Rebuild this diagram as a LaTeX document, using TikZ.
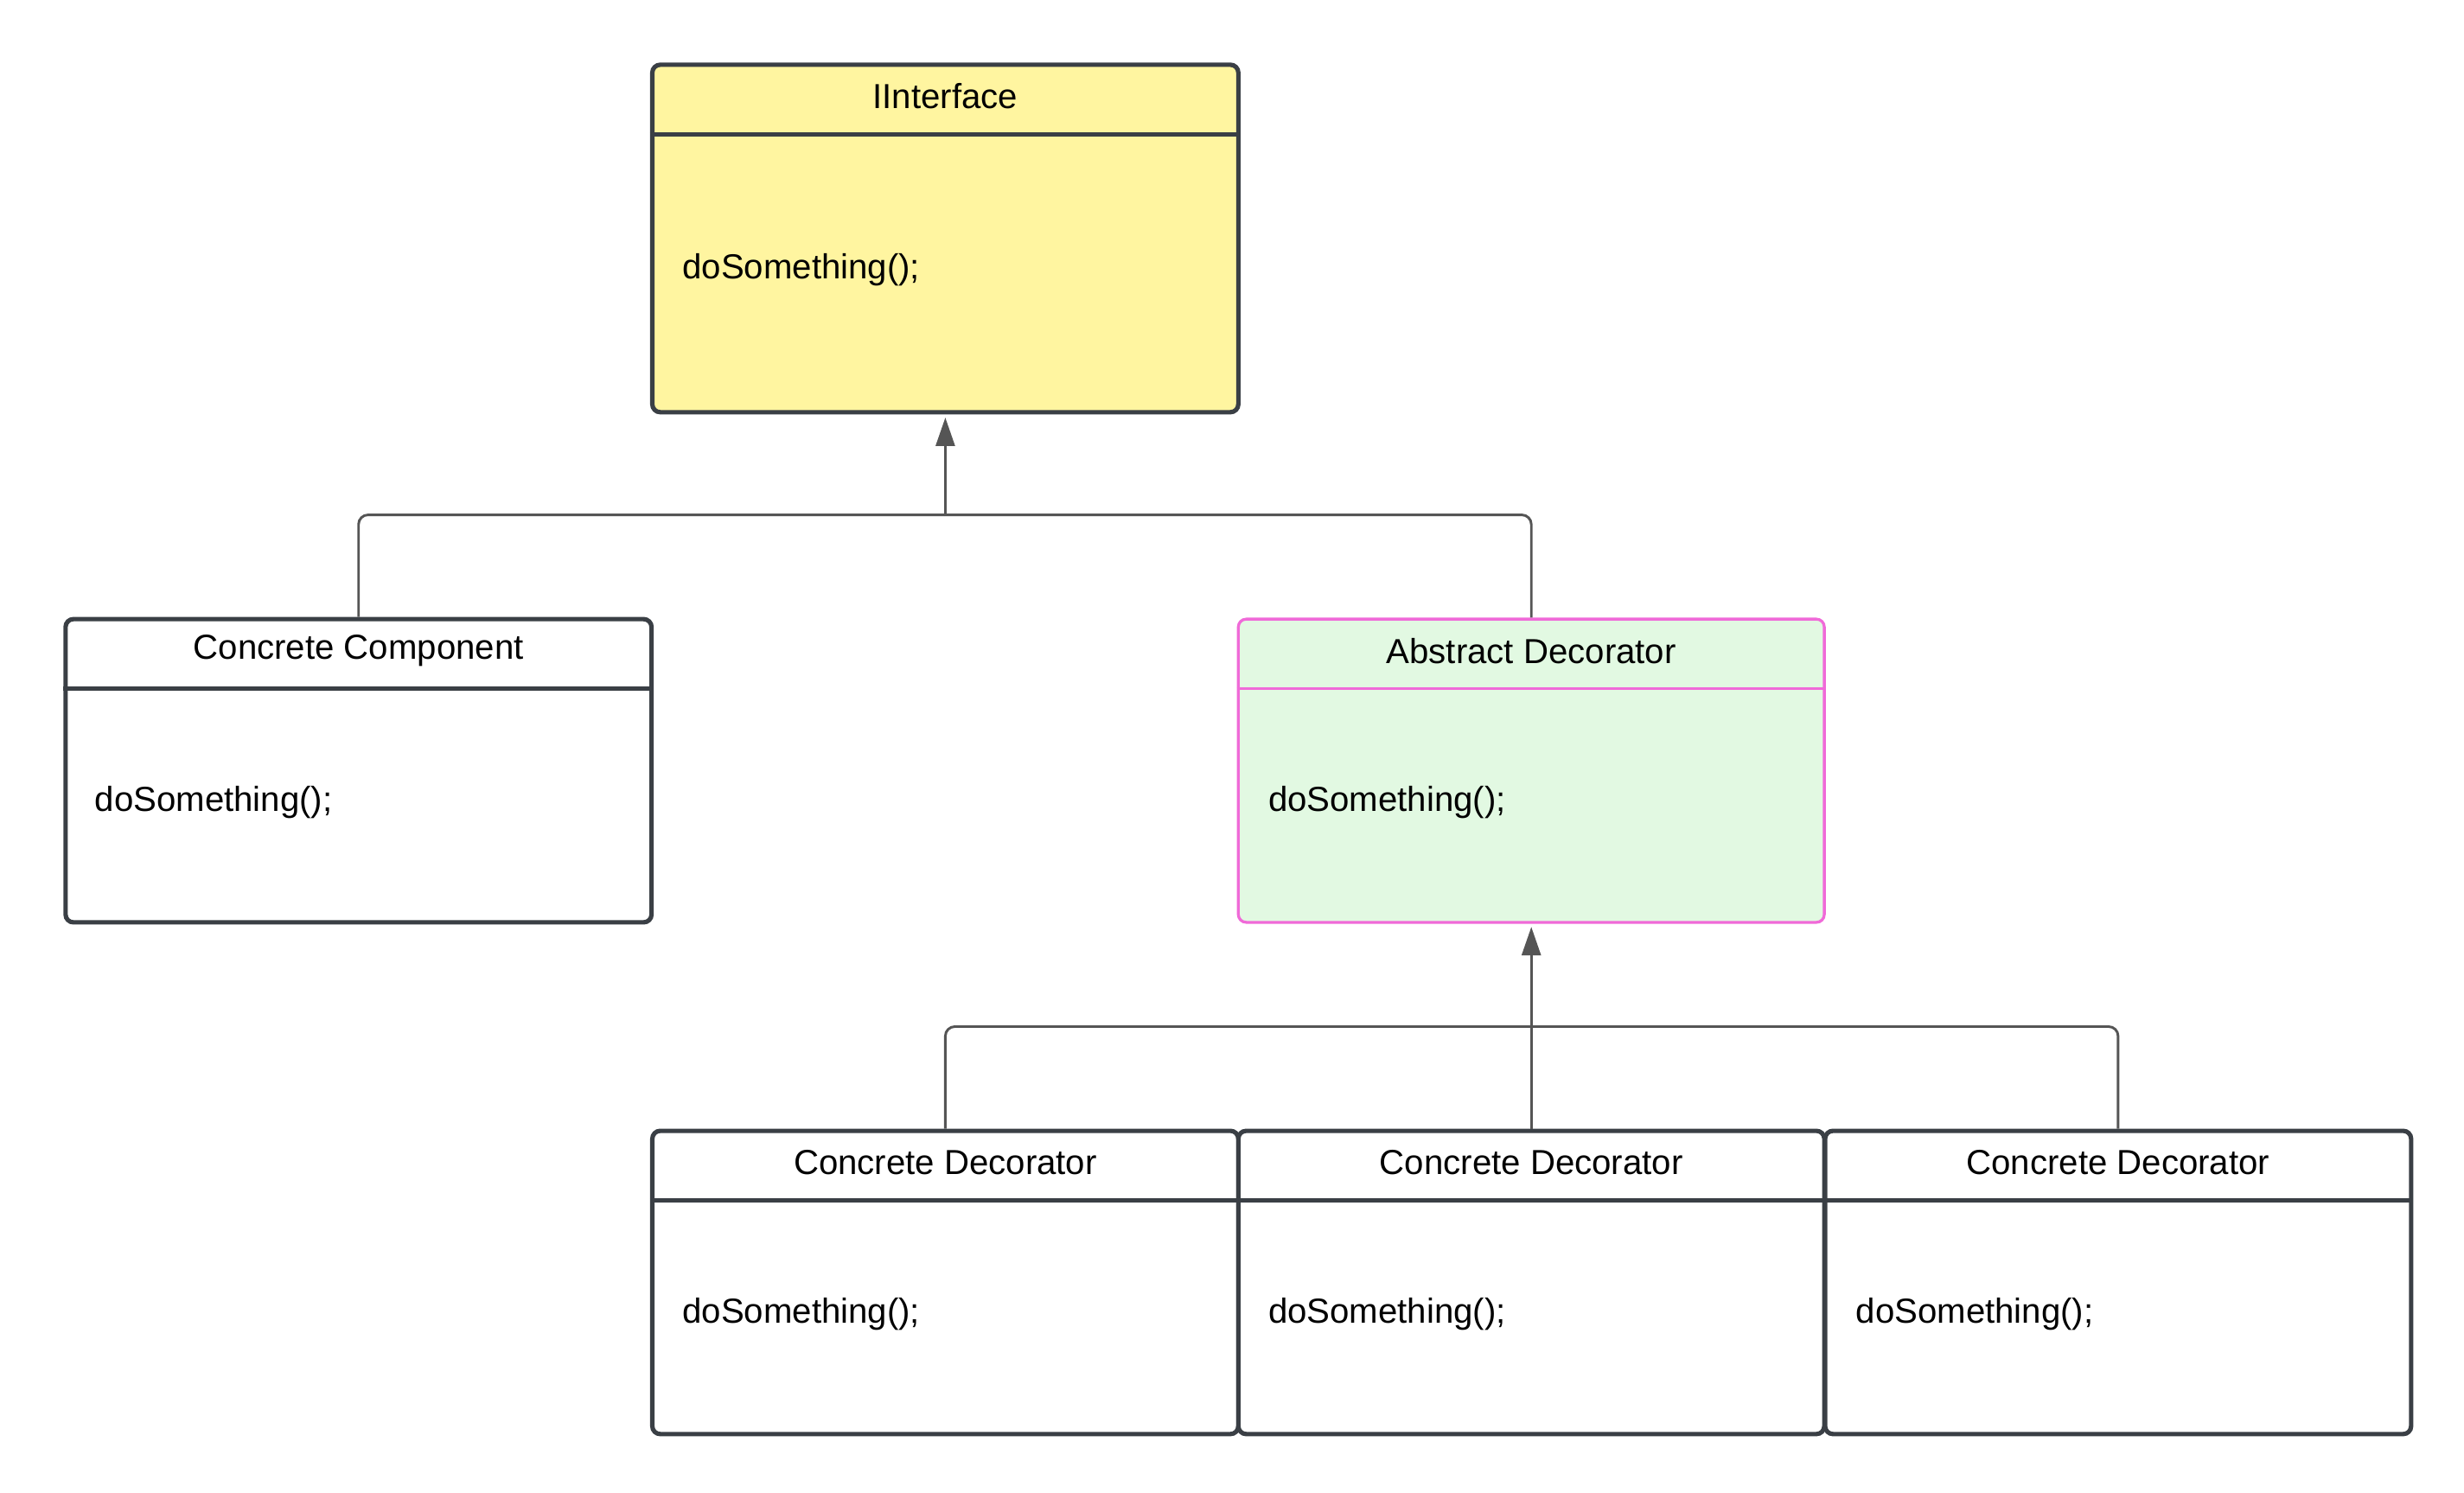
\documentclass[tikz,border=0pt]{standalone}
\usepackage{fontspec}
\setmainfont{Liberation Sans}
\usetikzlibrary{arrows.meta}
\definecolor{boxline}{HTML}{3A3F45}
\definecolor{yel}{HTML}{FFF5A0}
\definecolor{grn}{HTML}{E2F9E2}
\definecolor{pnk}{HTML}{F06AD8}
\definecolor{conn}{HTML}{555555}
\begin{document}
\begin{tikzpicture}[x=0.5pt,y=-0.5pt,
  umlbox/.style={draw=boxline,line width=1.4pt,rounded corners=2.5pt,minimum width=185.5pt,minimum height=#1,inner sep=0pt},
  hdr/.style={font=\fontsize{11}{13}\selectfont},
  body/.style={font=\fontsize{11}{13}\selectfont,anchor=west},
  link/.style={draw=conn,line width=0.8pt,rounded corners=3pt},
  tip/.style={-{Triangle[length=9pt,width=6pt]}}]
\useasboundingbox (0,0) rectangle (1560,945);
% boxes
\node[umlbox=110pt,fill=yel] (ii) at (598.5,151) {};
\node[umlbox=96pt,fill=white] (cc) at (227,488) {};
\node[umlbox=96pt,fill=grn,draw=pnk,line width=0.9pt] (ad) at (969.5,488) {};
\node[umlbox=96pt] (d1) at (598.5,812) {};
\node[umlbox=96pt] (d2) at (969.5,812) {};
\node[umlbox=96pt] (d3) at (1341,812) {};
% header lines
\draw[boxline,line width=1.4pt] (ii.west |- 0,85) -- (ii.east |- 0,85);
\draw[boxline,line width=1.4pt] (cc.west |- 0,436) -- (cc.east |- 0,436);
\draw[pnk,line width=0.9pt] (ad.west |- 0,436) -- (ad.east |- 0,436);
\foreach \n in {d1,d2,d3}{\draw[boxline,line width=1.4pt] (\n.west |- 0,760) -- (\n.east |- 0,760);}
% texts
\node[hdr] (iit) at (598.5,61) {IInterface};
\node[body] (iib) at (425,171) {doSomething();};
\node[hdr] (cct) at (227,412) {Concrete Component};
\node[body] (ccb) at (53,508) {doSomething();};
\node[hdr] (adt) at (969.5,412) {Abstract Decorator};
\node[body] (adb) at (796,508) {doSomething();};
\node[hdr] (d1t) at (598.5,736) {Concrete Decorator};
\node[body] (d1b) at (425,832) {doSomething();};
\node[hdr] (d2t) at (969.5,736) {Concrete Decorator};
\node[body] (d2b) at (796,832) {doSomething();};
\node[hdr] (d3t) at (1341,736) {Concrete Decorator};
\node[body] (d3b) at (1168,832) {doSomething();};
% connectors
\coordinate (j1) at (598.5,326);
\coordinate (j2) at (969.5,650);
\draw[link] (cc.north) -- (cc.north |- j1) -- (j1);
\draw[link] (ad.north) -- (ad.north |- j1) -- (j1);
\draw[link,tip] ([yshift=-0.4pt]j1) -- ([yshift=-1pt]ii.south);
\draw[link] (d1.north) -- (d1.north |- j2) -- (j2);
\draw[link] (d3.north) -- (d3.north |- j2) -- (j2);
\draw[link] (d2.north) -- (j2);
\draw[link,tip] (j2) -- ([yshift=-1pt]ad.south);
\end{tikzpicture}
\end{document}
